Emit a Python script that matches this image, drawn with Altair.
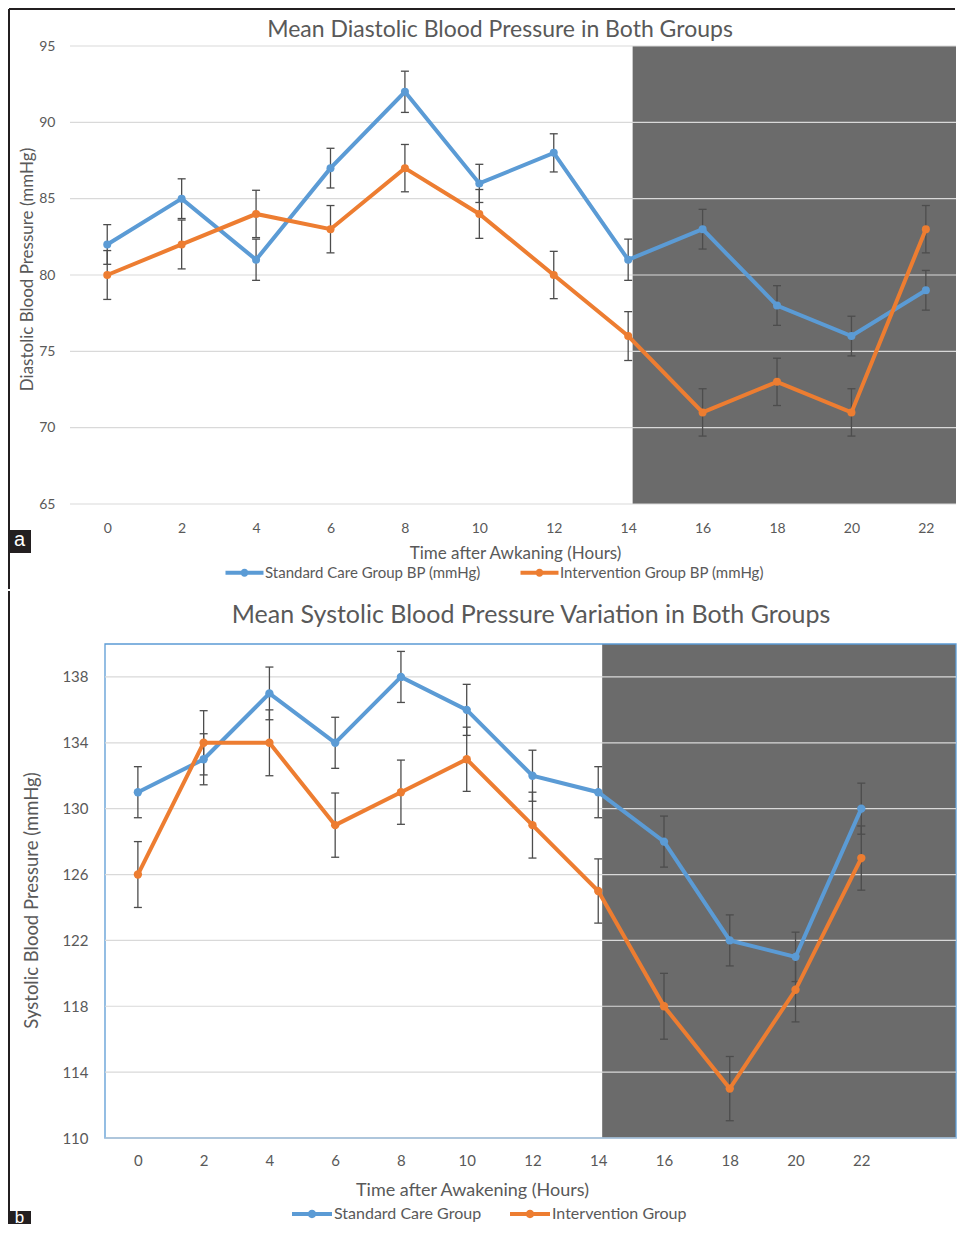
import altair as alt
import pandas as pd

hours = [0, 2, 4, 6, 8, 10, 12, 14, 16, 18, 20, 22]

dia_standard = [82, 85, 81, 87, 92, 86, 88, 81, 83, 78, 76, 79]
dia_standard_err = [1.3, 1.3, 1.35, 1.3, 1.35, 1.25, 1.25, 1.35, 1.3, 1.3, 1.3, 1.3]
dia_intervention = [80, 82, 84, 83, 87, 84, 80, 76, 71, 73, 71, 83]
dia_intervention_err = [1.6, 1.6, 1.55, 1.55, 1.55, 1.6, 1.55, 1.6, 1.55, 1.55, 1.55, 1.55]

sys_standard = [131, 133, 137, 134, 138, 136, 132, 131, 128, 122, 121, 130]
sys_standard_err = [1.55, 1.55, 1.6, 1.55, 1.55, 1.55, 1.55, 1.55, 1.55, 1.55, 1.5, 1.55]
sys_intervention = [126, 134, 134, 129, 131, 133, 129, 125, 118, 113, 119, 127]
sys_intervention_err = [2.0, 1.95, 2.0, 1.95, 1.95, 1.95, 2.0, 1.95, 2.0, 1.95, 1.95, 1.95]

dia_series = ["Standard Care Group BP (mmHg)", "Intervention Group BP (mmHg)"]
sys_series = ["Standard Care Group", "Intervention Group"]

dia_y_ticks = [65, 70, 75, 80, 85, 90, 95]
sys_y_ticks = [110, 114, 118, 122, 126, 130, 134, 138]

dia_x_domain = [-0.06, 22.81]
sys_x_domain = [-1, 24.88]
dia_y_domain = [65, 95]
sys_y_domain = [110, 140]
night_start = 14.12

BLUE = "#5b9bd5"
ORANGE = "#ed7d31"
TXT = "#595959"
FONT = "Lato"
LEG_SYMBOL = ("M-2,-0.2L2,-0.2L2,0.2L-2,0.2Z "
              "M-0.42,0A0.42,0.42 0 1,1 0.42,0A0.42,0.42 0 1,1 -0.42,0Z")


def panel(p):
    W, H = p["W"], p["H"]
    xs = alt.Scale(domain=p["x_domain"], nice=False, zero=False)
    ys = alt.Scale(domain=p["y_domain"], nice=False, zero=False)
    cs = alt.Scale(domain=p["series"], range=[BLUE, ORANGE])
    x_axis = alt.Axis(values=hours, title=p["x_title"], domain=False, ticks=False,
                      grid=False, labelFontSize=p["lab_fs"], labelColor=TXT,
                      labelPadding=p["x_lab_pad"], titleFontSize=p["xt_fs"],
                      titleColor=TXT, titleFontWeight="normal",
                      titlePadding=p["x_title_pad"], titleX=p["x_title_x"],
                      labelFont=FONT, titleFont=FONT)
    y_axis = alt.Axis(values=p["y_ticks"], title=p["y_title"], domain=False,
                      ticks=False, grid=False, labelFontSize=p["lab_fs"],
                      labelColor=TXT, labelPadding=p["y_lab_pad"],
                      titleFontSize=p["yt_fs"], titleColor=TXT,
                      titleFontWeight="normal", titlePadding=p["y_title_pad"],
                      titleY=p["y_title_y"], labelFont=FONT, titleFont=FONT)
    legend = alt.Legend(title=None, orient="none", legendX=p["leg_x"], legendY=p["leg_y"],
                        direction="horizontal", symbolType=LEG_SYMBOL,
                        symbolSize=p["leg_size"], symbolStrokeWidth=0,
                        symbolOpacity=1, labelFontSize=p["leg_fs"], labelLimit=0,
                        labelColor=TXT, labelFont=FONT, labelOffset=p["leg_off"],
                        columnPadding=p["leg_colpad"], padding=0)

    def X(f):
        return alt.X(f, scale=xs, axis=x_axis)

    def Y(f):
        return alt.Y(f, scale=ys, axis=y_axis)

    rows = []
    for name, vals, errs in ((p["series"][0], p["std"], p["std_err"]),
                             (p["series"][1], p["int"], p["int_err"])):
        for h, v, e in zip(hours, vals, errs):
            rows.append({"hour": h, "value": v, "lo": v - e, "hi": v + e, "series": name})
    df = pd.DataFrame(rows)

    shade_df = pd.DataFrame({"x": [night_start], "x2": [p["x_domain"][1]],
                             "y": [p["y_domain"][0]], "y2": [p["y_domain"][1]]})
    grid_df = pd.DataFrame({"y": p["y_ticks"]})
    one = alt.Data(values=[{"k": 0}])

    layers = []
    layers.append(alt.Chart(shade_df).mark_rect(color="#6b6b6b").encode(
        x=X("x:Q"), x2="x2:Q", y=Y("y:Q"), y2="y2:Q"))
    if p.get("border"):
        layers.append(alt.Chart(one).mark_rect(fillOpacity=0, stroke=BLUE, strokeWidth=1.3).encode(
            x=alt.value(0), x2=alt.value(W), y=alt.value(0), y2=alt.value(H)))
    layers.append(alt.Chart(grid_df).mark_rule(color="#d9d9d9", strokeWidth=1.2).encode(
        y=Y("y:Q"), x=alt.value(p["grid_x0"]), x2=alt.value(W)))
    layers.append(alt.Chart(df).mark_rule(color="#4d4d4d", strokeWidth=1.3).encode(
        x=X("hour:Q"), y=Y("lo:Q"), y2="hi:Q"))
    for f in ("lo", "hi"):
        layers.append(alt.Chart(df).mark_tick(color="#4d4d4d", orient="horizontal",
                                              size=8, thickness=1.3, opacity=1).encode(
            x=X("hour:Q"), y=Y(f + ":Q")))
    layers.append(alt.Chart(df).mark_line(strokeWidth=4).encode(
        x=X("hour:Q"), y=Y("value:Q"),
        color=alt.Color("series:N", scale=cs, legend=legend)))
    layers.append(alt.Chart(df).mark_circle(size=p["pt_size"], opacity=1).encode(
        x=X("hour:Q"), y=Y("value:Q"),
        color=alt.Color("series:N", scale=cs, legend=legend)))
    # chart title as text
    layers.append(alt.Chart(one).mark_text(text=p["title"], color=TXT, fontSize=p["title_fs"],
                                           font=FONT, align="center",
                                           baseline="alphabetic").encode(
        x=alt.value(p["title_x"]), y=alt.value(p["title_y"])))
    # frame lines and panel letter
    layers.append(alt.Chart(one).mark_rule(color="#231f20", strokeWidth=2).encode(
        x=alt.value(p["frame_x"]), y=alt.value(p["frame_y1"]), y2=alt.value(p["frame_y2"])))
    if p.get("top_frame"):
        layers.append(alt.Chart(one).mark_rule(color="#231f20", strokeWidth=2).encode(
            x=alt.value(p["frame_x"]), x2=alt.value(W - 1), y=alt.value(p["frame_y1"])))
    bx, by = p["box"]
    layers.append(alt.Chart(one).mark_rect(color="#231f20").encode(
        x=alt.value(bx), x2=alt.value(bx + 23), y=alt.value(by), y2=alt.value(p["box_y2"])))
    layers.append(alt.Chart(one).mark_text(text=p["letter"], color="white",
                                           fontSize=p["letter_fs"],
                                           font="Liberation Sans", baseline="middle",
                                           align="center").encode(
        x=alt.value(bx + 11.5), y=alt.value(p["letter_y"])))

    return alt.layer(*layers).properties(width=W, height=H)


top = panel(dict(
    W=851, H=458, grid_x0=-35, x_domain=dia_x_domain, y_domain=dia_y_domain,
    series=dia_series,
    std=dia_standard, std_err=dia_standard_err, int=dia_intervention,
    int_err=dia_intervention_err, y_ticks=dia_y_ticks,
    x_title="Time after Awkaning (Hours)", y_title="Diastolic Blood Pressure (mmHg)",
    lab_fs=14, xt_fs=17, yt_fs=17, x_lab_pad=17, x_title_pad=10, x_title_x=410,
    y_lab_pad=50, y_title_pad=2, y_title_y=223, pt_size=64,
    leg_x=130, leg_y=517, leg_size=361, leg_fs=15, leg_off=11, leg_colpad=39,
    frame_x=-96, frame_y1=-37, frame_y2=543, top_frame=True,
    box=(-97, 484), box_y2=507, letter="a", letter_fs=20, letter_y=494,
    title="Mean Diastolic Blood Pressure in Both Groups", title_fs=23,
    title_x=395, title_y=-9))

bottom = panel(dict(
    W=851, H=494, grid_x0=0, x_domain=sys_x_domain, y_domain=sys_y_domain,
    series=sys_series,
    std=sys_standard, std_err=sys_standard_err, int=sys_intervention,
    int_err=sys_intervention_err, y_ticks=sys_y_ticks,
    x_title="Time after Awakening (Hours)", y_title="Systolic Blood Pressure  (mmHg)",
    lab_fs=15, xt_fs=18, yt_fs=18.5, x_lab_pad=15, x_title_pad=13, x_title_x=367,
    y_lab_pad=17, y_title_pad=20, y_title_y=256, pt_size=70, border=True,
    leg_x=197, leg_y=560, leg_size=400, leg_fs=16, leg_off=12, leg_colpad=28,
    frame_x=-96, frame_y1=-53, frame_y2=579,
    box=(-97, 567), box_y2=580, letter="b", letter_fs=17, letter_y=574,
    title="Mean Systolic Blood Pressure Variation in Both Groups", title_fs=25,
    title_x=426, title_y=-21))

chart = alt.vconcat(top, bottom, spacing=0).resolve_scale(
    color="independent").resolve_legend(color="independent").properties(
    padding=0).configure(font=FONT).configure_view(stroke=None)

chart.save("out.html", embed_options={"renderer": "svg", "actions": False})
